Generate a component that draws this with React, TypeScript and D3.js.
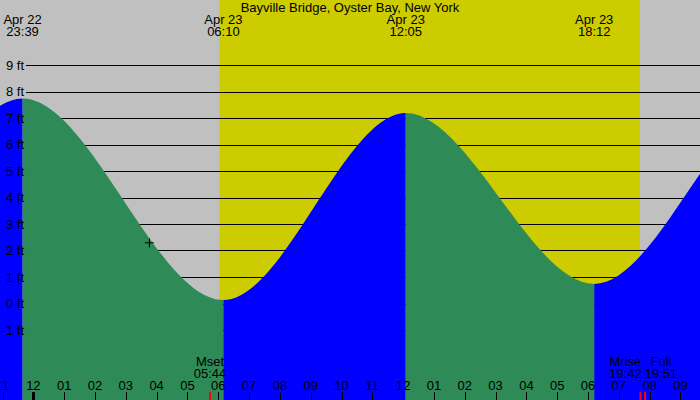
import React from "react";
import * as d3 from "d3";

const title = "Bayville Bridge, Oyster Bay, New York";

// tide extremes (local time) and heights in ft
const tideTimes = [
  "2024-04-22T11:10",
  "2024-04-22T17:25",
  "2024-04-22T23:39",
  "2024-04-23T06:10",
  "2024-04-23T12:05",
  "2024-04-23T18:12",
  "2024-04-24T00:20",
  "2024-04-24T06:40",
];
const tideHeights = [7.4, 0.5, 7.74, 0.13, 7.19, 0.74, 7.8, 0.3];
// extremes shown with labels on top
const labelTimes = ["2024-04-22T23:39", "2024-04-23T06:10", "2024-04-23T12:05", "2024-04-23T18:12"];
const labelDates = ["Apr 22", "Apr 23", "Apr 23", "Apr 23"];
const labelClock = ["23:39", "06:10", "12:05", "18:12"];

const sunrise = "2024-04-23T06:02";
const sunset = "2024-04-23T19:41";

const moonNames = ["Mset", "Mrise", "Full"];
const moonTimes = ["2024-04-23T05:44", "2024-04-23T19:42", "2024-04-23T19:51"];
const moonClock = ["05:44", "19:42", "19:51"];

const gridFeet = [9, 8, 7, 6, 5, 4, 3, 2, 1, 0, -1];

const nowTime = "2024-04-23T03:46";
const nowHeight = 2.29;

const domainStart = "2024-04-22T22:55";
const domainEnd = "2024-04-23T21:38";

const parse = (s: string) => new Date(s);

export default function App() {
  const W = 700;
  const H = 400;
  const font = "'Liberation Sans', Arial, sans-serif";
  const x = d3.scaleTime().domain([parse(domainStart), parse(domainEnd)]).range([0, W]);
  const y = d3.scaleLinear().domain([-1, 9]).range([330, 65]);

  const pts = tideTimes.map((t, i) => ({ t: parse(t), h: tideHeights[i] }));
  const area = d3
    .area<{ t: Date; h: number }>()
    .x((d) => x(d.t))
    .y0(H)
    .y1((d) => y(d.h))
    .curve(d3.curveMonotoneX);
  const areaPath = area(pts) || "";

  const segs = pts.slice(0, -1).map((p, i) => ({
    x0: x(p.t),
    x1: x(pts[i + 1].t),
    rising: pts[i + 1].h > p.h,
  }));

  const hours = x.ticks(d3.timeHour.every(1) as any);
  const fmtHour = d3.timeFormat("%I");

  const moonShift: Record<string, number> = { Mset: 0, Mrise: -15, Full: 16 };

  return (
    <svg
      width={W}
      height={H}
      style={{ position: "absolute", left: 0, top: 0, display: "block" }}
      fontFamily={font}
      fontSize={13}
    >
      <defs>
        {segs.map((s, i) => (
          <clipPath id={`seg${i}`} key={i}>
            <rect x={s.x0} y={0} width={Math.max(0, s.x1 - s.x0)} height={H} />
          </clipPath>
        ))}
      </defs>
      <rect x={0} y={0} width={W} height={H} fill="#c0c0c0" />
      <rect
        x={x(parse(sunrise))}
        y={0}
        width={x(parse(sunset)) - x(parse(sunrise))}
        height={H}
        fill="#cccc00"
      />
      {gridFeet.map((f) => (
        <line key={f} x1={26} x2={W} y1={Math.round(y(f)) + 0.5} y2={Math.round(y(f)) + 0.5} stroke="#000" strokeWidth={1} />
      ))}
      {segs.map((s, i) => (
        <path key={i} d={areaPath} fill={s.rising ? "#0000ff" : "#2e8b57"} clipPath={`url(#seg${i})`} />
      ))}
      {gridFeet.map((f) => (
        <text key={f} x={24} y={y(f) + 4.5} textAnchor="end" fill="#000">
          {`${f} ft`}
        </text>
      ))}
      <text x={350} y={12} textAnchor="middle" fill="#000">
        {title}
      </text>
      {labelTimes.map((t, i) => (
        <g key={t}>
          <text x={x(parse(t))} y={23.5} textAnchor="middle" fill="#000">
            {labelDates[i]}
          </text>
          <text x={x(parse(t))} y={35.5} textAnchor="middle" fill="#000">
            {labelClock[i]}
          </text>
        </g>
      ))}
      {hours.map((h) => {
        const xx = Math.round(x(h)) + 0.5;
        const mid = h.getHours() === 0;
        return (
          <g key={+h}>
            <line x1={xx} x2={xx} y1={392} y2={H} stroke="#000" strokeWidth={mid ? 3 : 1} />
            <text x={x(h)} y={389.5} textAnchor="middle" fill="#000">
              {fmtHour(h)}
            </text>
          </g>
        );
      })}
      {moonTimes.map((t, i) => {
        const mx = x(parse(t));
        const lx = mx + moonShift[moonNames[i]];
        return (
          <g key={t}>
            <line x1={mx} x2={mx} y1={392} y2={H} stroke="#ff0000" strokeWidth={2} />
            <text x={lx} y={366} textAnchor="middle" fill="#000">
              {moonNames[i]}
            </text>
            <text x={lx} y={378} textAnchor="middle" fill="#000">
              {moonClock[i]}
            </text>
          </g>
        );
      })}
      <g transform={`translate(${x(parse(nowTime))},${y(nowHeight)})`} stroke="#000" strokeWidth={1}>
        <line x1={-4.5} x2={4.5} y1={0} y2={0} />
        <line x1={0} x2={0} y1={-4.5} y2={4.5} />
      </g>
    </svg>
  );
}
